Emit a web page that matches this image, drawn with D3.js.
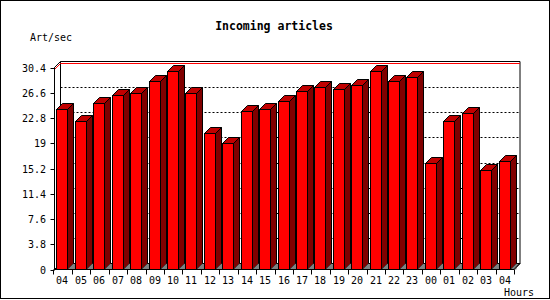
<!DOCTYPE html>
<html>
<head>
<meta charset="utf-8">
<script src="https://cdn.jsdelivr.net/npm/d3@7"></script>
<style>
  body { margin: 0; background: #fff; }
  svg { display: block; }
  text { font-family: "DejaVu Sans Mono", monospace; fill: #000; }
</style>
</head>
<body>
<svg class="chart" width="550" height="300"></svg>
<script>
const hours = ["04","05","06","07","08","09","10","11","12","13","14","15","16",
               "17","18","19","20","21","22","23","00","01","02","03","04"];
const artPerSec = [24.1, 22.3, 25.1, 26.2, 26.5, 28.4, 29.8, 26.5, 20.6, 19.0, 23.8, 24.1, 25.3,
                   26.8, 27.4, 27.1, 27.8, 29.8, 28.3, 28.9, 16.1, 22.4, 23.6, 14.9, 16.3];
const yTicks = [0, 3.8, 7.6, 11.4, 15.2, 19, 22.8, 26.6, 30.4];

const svg = d3.select(".chart");
const depth = 6;

const x = d3.scaleBand()
    .domain(d3.range(hours.length))
    .range([53.5, 514]);

const y = d3.scaleLinear()
    .domain([0, 30.4])
    .range([269.5, 67.5]);

const bw = x.bandwidth();
const faceOff = 3;
const faceW = 11;
const left = x.range()[0] + 1;
const right = x.range()[1];
const base = y(0);

// floor
svg.append("path")
    .attr("d", `M${left},${base}L${right},${base}L${right + depth},${base - depth}L${left + depth},${base - depth}Z`)
    .attr("fill", "#808080")
    .attr("stroke", "#000");

// back grid (dotted)
svg.append("g")
    .selectAll("line")
    .data(yTicks.filter(d => d > 0 && d < 30.4))
    .join("line")
    .attr("x1", left + depth)
    .attr("x2", right + depth)
    .attr("y1", d => Math.round(y(d) - depth) + 0.5)
    .attr("y2", d => Math.round(y(d) - depth) + 0.5)
    .attr("stroke", "#000")
    .attr("stroke-dasharray", "2,2");

// walls
svg.append("path")
    .attr("d", `M${left},${base}L${left},${y(30.4)}L${left + depth},${y(30.4) - depth}L${right + depth},${y(30.4) - depth}L${right + depth},${base - depth}`)
    .attr("fill", "none")
    .attr("stroke", "#000");
svg.append("line")
    .attr("x1", left + depth).attr("x2", left + depth)
    .attr("y1", y(30.4) - depth).attr("y2", base - depth)
    .attr("stroke", "#000");

// max line
const maxV = d3.max(artPerSec);
const ym = Math.round(y(maxV) - depth) - 1.5;
svg.append("path")
    .attr("d", `M${left},${ym + depth}L${left + depth},${ym}L${right + depth},${ym}`)
    .attr("fill", "none")
    .attr("stroke", "#ff0000");

// bars
const bars = svg.append("g")
    .selectAll("g")
    .data(artPerSec)
    .join("g");

bars.append("path")
    .attr("d", (d, i) => {
        const x0 = Math.round(x(i) + faceOff) + 0.5, x1 = x0 + faceW, t = Math.round(y(d)) + 0.5;
        return `M${x0},${t}L${x0 + depth},${t - depth}L${x1 + depth},${t - depth}L${x1},${t}Z`;
    })
    .attr("fill", "#c00000")
    .attr("stroke", "#000");

bars.append("path")
    .attr("d", (d, i) => {
        const x1 = Math.round(x(i) + faceOff) + 0.5 + faceW, t = Math.round(y(d)) + 0.5;
        return `M${x1},${t}L${x1 + depth},${t - depth}L${x1 + depth},${base - depth}L${x1},${base}Z`;
    })
    .attr("fill", "#800000")
    .attr("stroke", "#000");

bars.append("path")
    .attr("d", (d, i) => {
        const x1 = Math.round(x(i) + faceOff) + 0.5 + faceW;
        return `M${x1},${base}L${x1 + depth},${base - depth}L${x1 + depth},${base}Z`;
    })
    .attr("fill", "#808080")
    .attr("stroke", "none");

bars.append("rect")
    .attr("x", (d, i) => Math.round(x(i) + faceOff) + 0.5)
    .attr("y", d => Math.round(y(d)) + 0.5)
    .attr("width", faceW)
    .attr("height", d => base - Math.round(y(d)) - 0.5)
    .attr("fill", "#ff0000")
    .attr("stroke", "#000");

// front axes
svg.append("line")
    .attr("x1", left).attr("x2", left)
    .attr("y1", y(30.4)).attr("y2", base)
    .attr("stroke", "#000");
svg.append("line")
    .attr("x1", left).attr("x2", right)
    .attr("y1", base).attr("y2", base)
    .attr("stroke", "#000");
svg.append("line")
    .attr("x1", right).attr("x2", right + depth)
    .attr("y1", base).attr("y2", base - depth)
    .attr("stroke", "#000");

// y ticks
const yAxis = svg.append("g");
yAxis.selectAll("line")
    .data(yTicks)
    .join("line")
    .attr("x1", left - 4).attr("x2", left)
    .attr("y1", d => Math.round(y(d)) + 0.5)
    .attr("y2", d => Math.round(y(d)) + 0.5)
    .attr("stroke", "#000");
yAxis.selectAll("text")
    .data(yTicks)
    .join("text")
    .attr("x", 46)
    .attr("y", d => Math.round(y(d)) + 4)
    .attr("text-anchor", "end")
    .attr("font-size", 10)
    .text(d => d);

// x ticks
const xAxis = svg.append("g");
xAxis.selectAll("line")
    .data(d3.range(hours.length + 1))
    .join("line")
    .attr("x1", i => Math.round(i < hours.length ? x(i) : right) + 0.5)
    .attr("x2", i => Math.round(i < hours.length ? x(i) : right) + 0.5)
    .attr("y1", base).attr("y2", base + 5)
    .attr("stroke", "#000");
xAxis.selectAll("text")
    .data(hours)
    .join("text")
    .attr("x", (d, i) => Math.round(x(i) + faceOff) + 0.5 + faceW / 2)
    .attr("y", 284)
    .attr("text-anchor", "middle")
    .attr("font-size", 10)
    .text(d => d);

// titles
svg.append("text")
    .attr("x", 274).attr("y", 30)
    .attr("text-anchor", "middle")
    .attr("font-size", 11.5)
    .attr("font-weight", "bold")
    .text("Incoming articles");
svg.append("text")
    .attr("x", 30).attr("y", 41)
    .attr("font-size", 10)
    .text("Art/sec");
svg.append("text")
    .attr("x", 504).attr("y", 296)
    .attr("font-size", 10)
    .text("Hours");

// border
svg.append("rect")
    .attr("x", 0.5).attr("y", 0.5)
    .attr("width", 549).attr("height", 298)
    .attr("fill", "none")
    .attr("stroke", "#000");
</script>
</body>
</html>
